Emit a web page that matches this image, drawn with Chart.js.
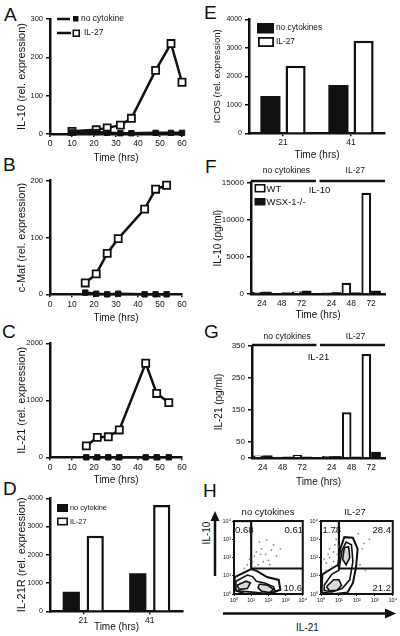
<!DOCTYPE html>
<html>
<head>
<meta charset="utf-8">
<script src="https://cdn.jsdelivr.net/npm/chart.js@4.4.0/dist/chart.umd.min.js"></script>
<style>
  html, body { margin: 0; padding: 0; background: #fff; }
  #fig { position: relative; width: 400px; height: 636px; overflow: hidden;
         font-family: 'Liberation Sans', Arial, Helvetica, sans-serif; color: #111; }
  #fig canvas { position: absolute; }
  .lt { position: absolute; font-size: 19px; line-height: 1; }
  .tx { position: absolute; font-size: 10px; line-height: 1; white-space: nowrap; }
</style>
</head>
<body>
<div id="fig">
  <div class="lt" style="left:4px;top:5px">A</div>
  <div class="lt" style="left:3px;top:155px">B</div>
  <div class="lt" style="left:2px;top:322px">C</div>
  <div class="lt" style="left:3px;top:479px">D</div>
  <div class="lt" style="left:204px;top:3px">E</div>
  <div class="lt" style="left:205px;top:157px">F</div>
  <div class="lt" style="left:204px;top:322px">G</div>
  <div class="lt" style="left:203px;top:481px">H</div>
  <div class="tx" style="left:196px;top:528px;transform:rotate(-90deg);transform-origin:center">IL-10</div>
  <div class="tx" style="left:296px;top:623px">IL-21</div>
  <svg width="400" height="636" style="position:absolute;left:0;top:0;pointer-events:none">
    <line x1="215" y1="576" x2="215" y2="519" stroke="#111" stroke-width="2.5"/>
    <polygon points="215,511 210.5,521 219.5,521" fill="#111"/>
    <line x1="223" y1="613.5" x2="386" y2="613.5" stroke="#111" stroke-width="2.5"/>
    <polygon points="396,613.5 385,608.5 385,618.5" fill="#111"/>
  </svg>
</div>
<script>
// A – IL-10 mRNA over time
const timeA = [10, 21, 26, 32, 37, 48, 55, 60];
const il10None = [4, 5, 3, 2, 2, 3, 3, 3];
const il10Il27 = [7, 11, 16, 23, 41, 166, 236, 135];

// B – c-Maf
const timeB = [16, 21, 26, 31, 43, 48, 53];
const cmafNone = [3, 1, 0, 1, 0, 0, 0];
const cmafIl27 = [20, 36, 72, 98, 150, 185, 192];

// C – IL-21
const timeC = [16.5, 21.5, 26.5, 31.5, 43.5, 48.5, 54];
const il21None = [0, 0, 0, 0, 0, 0, 0];
const il21Il27 = [200, 350, 360, 480, 1650, 1120, 960];

// D / E – receptor and ICOS at two time points
const timeBars = ['21', '41'];
const il21rNone = [694, 1345];
const il21rIl27 = [2676, 3763];
const icosNone = [1309, 1695];
const icosIl27 = [2372, 3250];

// F / G – secreted protein, WT vs WSX-1-/-
const elisaGroups = ['no cytokines', 'IL-27'];
const elisaTimes = ['24', '48', '72'];
const il10WT = [300, 100, 350, 200, 1500, 13600];
const il10Wsx = [300, 200, 450, 250, 200, 450];
const il21WT = [8, 4, 10, 6, 143, 325];
const il21Wsx = [8, 4, 4, 6, 4, 19];
const il21Ticks = [0, 50, 150, 250, 350];

// H – flow plots (IL-21 on x, IL-10 on y)
const decades = [1, 10, 100, 1000, 10000];
const quadNone = ['0.68', '0.61', '10.6'];
const quadIl27 = ['1.78', '28.4', '21.2'];
const gate = [[10, 10000], [10, 25], [10000, 25]];
const noneContours = [
  [[1.1, 8.5], [10, 23], [22, 18], [83, 8.5], [400, 5.9], [500, 1.7], [100, 1], [4.2, 1], [1.1, 1.7], [1.1, 8.5]],
  [[1.3, 5], [6, 11], [12, 9], [20, 5], [60, 4], [200, 2.5], [250, 1.3], [60, 1.1], [8, 1.3], [1.3, 1.5], [1.3, 5]],
  [[1.5, 3], [5, 5], [9, 4], [6, 2], [2, 1.8], [1.5, 3]],
  [[30, 3.5], [90, 3], [200, 1.8], [120, 1.2], [40, 1.4], [25, 2.2], [30, 3.5]]
];
const noneDots = [[12, 60], [20, 200], [40, 300], [70, 150], [150, 250], [25, 40], [300, 120], [8, 80],
  [50, 60], [120, 40], [15, 120], [200, 500], [30, 700], [500, 300], [80, 900], [18, 30], [6, 40],
  [4, 25], [100, 70], [35, 150]];
const il27Contours = [
  [[1.1, 2], [1.2, 12], [4, 25], [9, 40], [12, 300], [20, 1300], [60, 1200], [110, 300], [90, 30],
   [60, 4], [30, 1.2], [6, 1], [1.1, 1.2], [1.1, 2]],
  [[1.5, 3], [4, 12], [10, 20], [15, 250], [25, 700], [50, 500], [60, 60], [40, 6], [15, 2], [4, 1.3],
   [1.5, 1.6], [1.5, 3]],
  [[16, 80], [20, 350], [35, 380], [40, 100], [25, 40], [16, 80]],
  [[2, 2.5], [5, 6], [10, 6], [14, 3], [8, 1.6], [3, 1.5], [2, 2.5]]
];
const il27Dots = [[3, 100], [5, 200], [2, 50], [6, 500], [4, 30], [8, 150], [200, 300], [500, 1000],
  [150, 40], [300, 20], [2, 20], [7, 1000], [3, 300], [5, 60], [9, 400], [2.5, 150], [120, 2000],
  [6, 2500], [250, 600], [1.5, 80]];

const INK = '#111';
const WHITE = '#fff';
Chart.defaults.font.family = "'Liberation Sans', Arial, Helvetica, sans-serif";
Chart.defaults.color = INK;
Chart.defaults.animation = false;
Chart.defaults.plugins.legend.display = false;
Chart.defaults.plugins.tooltip.enabled = false;

const fig = document.getElementById('fig');

function mk(id, left, top, w, h) {
  const c = document.createElement('canvas');
  c.id = id;
  c.width = w; c.height = h;
  c.style.left = left + 'px'; c.style.top = top + 'px';
  c.style.width = w + 'px'; c.style.height = h + 'px';
  fig.appendChild(c);
  return c;
}

// extra drawing (legends, brackets, labels) in page coordinates
function decoFor(spec) {
  return {
    id: 'deco',
    afterDraw(chart) {
      const ctx = chart.ctx;
      const ox = spec.ox, oy = spec.oy;
      ctx.save();
      ctx.translate(-ox, -oy);
      ctx.strokeStyle = INK;
      if (spec.frame) {
        const a = chart.chartArea;
        ctx.lineWidth = spec.frame;
        ctx.strokeRect(a.left + ox, a.top + oy, a.right - a.left, a.bottom - a.top);
      }
      (spec.lines || []).forEach(([x1, y1, x2, y2, w]) => {
        ctx.lineWidth = w;
        ctx.beginPath(); ctx.moveTo(x1, y1); ctx.lineTo(x2, y2); ctx.stroke();
      });
      (spec.boxes || []).forEach(([x, y, w, h, fill, lw]) => {
        ctx.fillStyle = fill;
        ctx.fillRect(x, y, w, h);
        if (lw) { ctx.lineWidth = lw; ctx.strokeRect(x + lw / 2, y + lw / 2, w - lw, h - lw); }
      });
      ctx.fillStyle = INK;
      ctx.textBaseline = 'middle';
      (spec.groups || []).forEach(g => {
        const xs = chart.scales.x;
        const x1 = xs.getPixelForValue(g.from) + ox, x2 = xs.getPixelForValue(g.to) + ox;
        ctx.lineWidth = 2.5;
        ctx.beginPath(); ctx.moveTo(x1, g.y); ctx.lineTo(x2, g.y); ctx.stroke();
        ctx.font = "8.5px 'Liberation Sans', Arial, sans-serif";
        ctx.textAlign = 'center';
        ctx.fillText(g.label, (x1 + x2) / 2 + 3, g.ty);
      });
      (spec.texts || []).forEach(([t, x, y, size, align]) => {
        ctx.font = size + "px 'Liberation Sans', Arial, sans-serif";
        ctx.textAlign = align || 'left';
        ctx.fillText(t, x, y);
      });
      ctx.restore();
    }
  };
}

function yScale(c) {
  return {
    min: 0, max: c.max,
    border: { color: INK, width: 2.5 },
    grid: { drawOnChartArea: false, color: INK, lineWidth: 1.5, tickLength: 4 },
    ticks: { color: INK, padding: 3, stepSize: c.step, autoSkip: false,
             font: { size: c.tick || 7.5 }, callback: v => String(v) },
    title: { display: true, text: c.title, color: INK, font: { size: c.tsize || 11 },
             padding: { top: c.tpad, bottom: 0 } },
    afterBuildTicks: c.at ? s => { s.ticks = c.at.map(v => ({ value: v })); } : undefined,
    afterFit: s => { s.width = c.w; }
  };
}

function xTitle(pad) {
  return { display: true, text: 'Time (hrs)', color: INK, font: { size: 10 },
           padding: { top: 0, bottom: pad } };
}

function lineChart(id, box, t, none, il27, c) {
  const [left, top, w, h] = box;
  return new Chart(mk(id, left, top, w, h), {
    type: 'line',
    data: {
      datasets: [
        { data: t.map((x, i) => ({ x, y: none[i] })), borderColor: INK, borderWidth: 2.5,
          pointStyle: 'rect', pointRadius: 3.8, pointBackgroundColor: INK, pointBorderColor: INK,
          pointBorderWidth: 1, clip: false },
        { data: t.map((x, i) => ({ x, y: il27[i] })), borderColor: INK, borderWidth: 2.5,
          pointStyle: 'rect', pointRadius: 5, pointBackgroundColor: WHITE, pointBorderColor: INK,
          pointBorderWidth: 1.8, clip: false }
      ]
    },
    options: {
      responsive: false,
      layout: { padding: { left: 0, top: c.pt, right: c.pr, bottom: 0 } },
      scales: {
        x: {
          type: 'linear', min: 0, max: 60,
          border: { color: INK, width: 2.5 },
          grid: { drawOnChartArea: false, color: INK, lineWidth: 1.5, tickLength: 3 },
          ticks: { stepSize: 10, color: INK, padding: 2, maxRotation: 0, font: { size: 8.5 } },
          title: xTitle(1),
          afterFit: s => { s.height = c.xh; }
        },
        y: yScale(c)
      }
    },
    plugins: [decoFor(Object.assign({ ox: left, oy: top }, c.deco || {}))]
  });
}

function pairBars(id, box, none, il27, c) {
  const [left, top, w, h] = box;
  return new Chart(mk(id, left, top, w, h), {
    type: 'bar',
    data: {
      labels: timeBars,
      datasets: [
        { data: none, backgroundColor: INK, borderColor: INK, borderWidth: 0,
          categoryPercentage: c.cat, barPercentage: c.bar },
        { data: il27, backgroundColor: WHITE, borderColor: INK, borderWidth: 2.5,
          categoryPercentage: c.cat, barPercentage: c.bar }
      ]
    },
    options: {
      responsive: false,
      layout: { padding: { left: 0, top: c.pt, right: c.pr, bottom: 0 } },
      scales: {
        x: {
          offset: true,
          border: { color: INK, width: 2.5 },
          grid: { offset: false, drawOnChartArea: false, color: INK, lineWidth: 1.5, tickLength: 3 },
          ticks: { color: INK, padding: 1, maxRotation: 0, font: { size: 8.5 } },
          title: xTitle(c.xtpad),
          afterFit: s => { s.height = c.xh; }
        },
        y: yScale(c)
      }
    },
    plugins: [decoFor(Object.assign({ ox: left, oy: top }, c.deco))]
  });
}

// x position of each ELISA bar pair: two culture groups with a gap between them
const elisaX = elisaGroups.flatMap((_, g) => elisaTimes.map((_, i) => 1 + i + g * 3.5));

function elisaBars(id, box, wt, wsx, c) {
  const [left, top, w, h] = box;
  return new Chart(mk(id, left, top, w, h), {
    type: 'bar',
    data: {
      datasets: [
        { data: wt.map((y, k) => ({ x: elisaX[k], y })), backgroundColor: WHITE, borderColor: INK,
          borderWidth: 2.2, categoryPercentage: 0.98, barPercentage: 1 },
        { data: wsx.map((y, k) => ({ x: elisaX[k], y })), backgroundColor: INK, borderColor: INK,
          borderWidth: 0, categoryPercentage: 0.98, barPercentage: 1 }
      ]
    },
    options: {
      responsive: false,
      layout: { padding: { left: 0, top: c.pt, right: c.pr, bottom: 0 } },
      scales: {
        x: {
          type: 'linear', min: 0.45, max: 7.2, offset: false,
          border: { color: INK, width: 2.5 },
          grid: { offset: false, drawOnChartArea: false, drawTicks: false },
          ticks: { color: INK, padding: 5, maxRotation: 0, autoSkip: false, font: { size: 8.5 },
                   callback: (v, i) => elisaTimes[i % elisaTimes.length] },
          afterBuildTicks: s => { s.ticks = elisaX.map(v => ({ value: v })); },
          title: xTitle(1),
          afterFit: s => { s.height = c.xh; }
        },
        y: yScale(c)
      }
    },
    plugins: [decoFor(Object.assign({ ox: left, oy: top }, c.deco))]
  });
}

const SUP = ['\u2070', '\u00b9', '\u00b2', '\u00b3', '\u2074'];
function logAxis(isY, size) {
  return {
    type: 'logarithmic', min: 1, max: 10000,
    border: { display: false },
    grid: { drawOnChartArea: false, color: INK, lineWidth: 1, tickLength: 2 },
    ticks: { color: INK, padding: 1, autoSkip: false, maxRotation: 0, font: { size: 5.5 },
             callback: v => '10' + SUP[Math.round(Math.log10(v))] },
    afterBuildTicks: s => { s.ticks = decades.map(v => ({ value: v })); },
    afterFit: s => { if (isY) s.width = size; else s.height = size; }
  };
}

function flowPlot(id, box, contours, dots, c) {
  const [left, top, w, h] = box;
  const pts = a => a.map(([x, y]) => ({ x, y }));
  const datasets = [
    { data: pts(dots), pointRadius: 0.9, pointBackgroundColor: '#888', pointBorderWidth: 0 }
  ];
  contours.forEach((loop, k) => datasets.push({
    data: pts(loop), showLine: true, pointRadius: 0, borderColor: INK,
    borderWidth: k === 0 ? 2 : 1.6, fill: k >= 2 ? 'shape' : false,
    backgroundColor: 'rgba(0,0,0,0.15)'
  }));
  datasets.push({ data: pts(gate), showLine: true, pointRadius: 0, borderColor: INK, borderWidth: 2.2 });
  if (c.edge) datasets.push({ data: pts(c.edge), showLine: true, pointRadius: 0,
                              borderColor: '#4d62c8', borderWidth: 2.5 });
  return new Chart(mk(id, left, top, w, h), {
    type: 'scatter',
    data: { datasets },
    options: {
      responsive: false,
      layout: { padding: { left: 0, top: 16, right: c.pr, bottom: 0 } },
      scales: { x: logAxis(false, 13), y: logAxis(true, c.yw) }
    },
    plugins: [decoFor({ ox: left, oy: top, frame: 2, texts: c.texts })]
  });
}

lineChart('cA', [0, 0, 192, 165], timeA, il10None, il10Il27, {
  pt: 19, pr: 10, xh: 31, w: 50, max: 300, step: 100, title: 'IL-10 (rel. expression)', tpad: 15.4,
  deco: {
    lines: [[57, 19, 70, 19, 2.5], [57, 33, 71, 33, 2.5]],
    boxes: [[73, 16, 5.5, 5.5, INK], [72.5, 29.5, 7.5, 7.5, WHITE, 1.6]],
    texts: [['no cytokine', 81, 18.5, 8.5], ['IL-27', 84, 33, 8.5]]
  }
});
lineChart('cB', [0, 160, 192, 165], timeB, cmafNone, cmafIl27, {
  pt: 20.7, pr: 10, xh: 30.7, w: 50, max: 200, step: 100, title: 'c-Maf (rel. expression)', tpad: 15.4
});
lineChart('cC', [0, 322, 192, 165], timeC, il21None, il21Il27, {
  pt: 21.3, pr: 10, xh: 29.7, w: 50, max: 2000, step: 1000, title: 'IL-21 (rel. expression)', tpad: 15.4
});
pairBars('cD', [0, 478, 192, 158], il21rNone, il21rIl27, {
  pt: 20.3, pr: 9, xh: 24.7, xtpad: 3, w: 50, max: 4000, step: 1000, tick: 7,
  title: 'IL-21R (rel. expression)', tpad: 15.4, cat: 0.72, bar: 0.72,
  deco: {
    boxes: [[57, 504, 11, 8, INK], [57, 517.5, 11, 8, WHITE, 1.6]],
    texts: [['no cytokine', 70, 508, 7.3], ['IL-27', 70, 521.5, 7.3]]
  }
});
pairBars('cE', [200, 0, 200, 165], icosNone, icosIl27, {
  pt: 19.3, pr: 15, xh: 31.7, xtpad: 4, w: 49, max: 4000, step: 1000, tick: 7,
  title: 'ICOS (rel. expression)', tsize: 9.5, tpad: 11.3, cat: 0.74, bar: 0.8,
  deco: {
    boxes: [[257, 23, 17, 10.5, INK], [258, 37, 16, 10, WHITE, 1.8]],
    texts: [['no cytokines', 276, 28, 8.3], ['IL-27', 276, 42, 8.3]]
  }
});
elisaBars('cF', [200, 160, 200, 162], il10WT, il10Wsx, {
  pt: 22.3, pr: 15, xh: 28, w: 51, max: 15000, step: 5000, tick: 8,
  title: 'IL-10 (pg/ml)', tsize: 10, tpad: 12,
  deco: {
    groups: [{ label: elisaGroups[0], from: 0.45, to: 3.72, y: 181, ty: 171 },
             { label: elisaGroups[1], from: 3.9, to: 7.2, y: 181, ty: 171 }],
    boxes: [[254.5, 184, 11, 8.5, WHITE, 1.6], [254.5, 198, 11, 7.5, INK]],
    texts: [['WT', 266.5, 189, 9.5], ['WSX-1-/-', 266.5, 202, 9.5], ['IL-10', 319.5, 190.5, 9.5, 'center']]
  }
});
elisaBars('cG', [200, 325, 200, 164], il21WT, il21Wsx, {
  pt: 21, pr: 15, xh: 31, w: 52, max: 350, at: il21Ticks, tick: 8,
  title: 'IL-21 (pg/ml)', tsize: 10, tpad: 13,
  deco: {
    groups: [{ label: elisaGroups[0], from: 0.45, to: 3.72, y: 345, ty: 336.5 },
             { label: elisaGroups[1], from: 3.9, to: 7.2, y: 345, ty: 336.5 }],
    texts: [['IL-21', 318.5, 357, 9.5, 'center']]
  }
});
flowPlot('cH1', [218, 505, 90, 102], noneContours, noneDots, {
  yw: 16, pr: 3, edge: [[1, 10000], [10, 10000]],
  texts: [['no cytokines', 268, 512, 9.5, 'center'], [quadNone[0], 235, 530.5, 9.5],
          [quadNone[1], 303, 530.5, 9.5, 'right'], [quadNone[2], 302, 588, 9.5, 'right']]
});
flowPlot('cH2', [310, 505, 88, 102], il27Contours, il27Dots, {
  yw: 11, pr: 5,
  texts: [['IL-27', 355, 512, 9.5, 'center'], [quadIl27[0], 322.5, 530.5, 9.5],
          [quadIl27[1], 391, 530.5, 9.5, 'right'], [quadIl27[2], 391, 588, 9.5, 'right']]
});
</script>
</body>
</html>
